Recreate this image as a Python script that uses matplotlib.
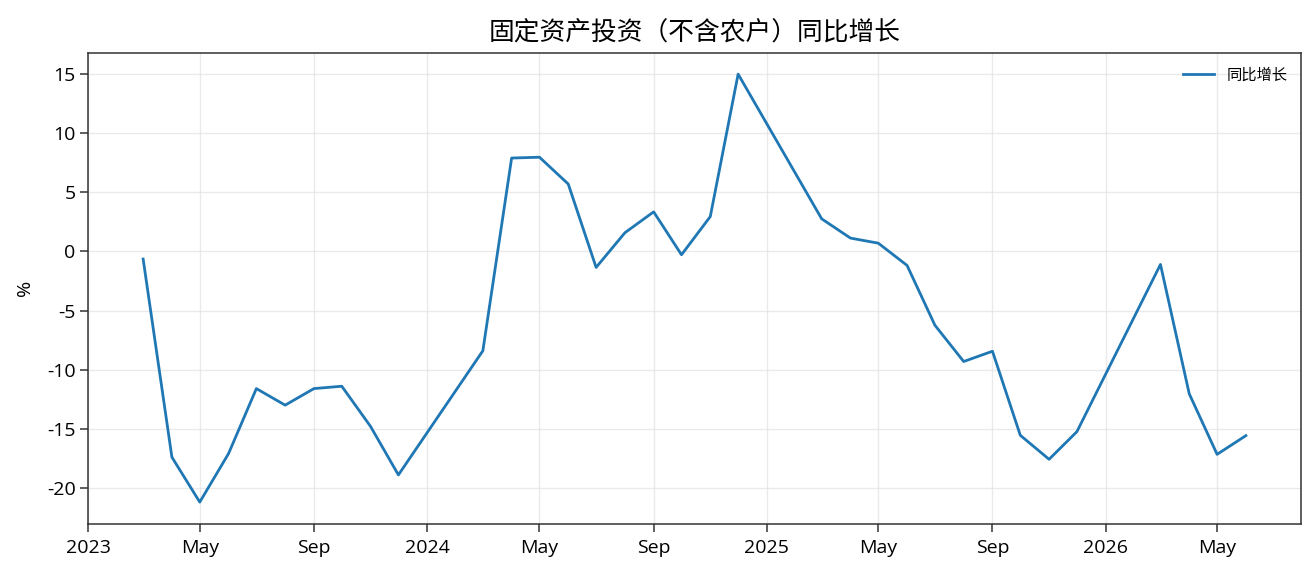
import matplotlib
matplotlib.use("Agg")
import matplotlib.pyplot as plt
import matplotlib.dates as mdates
from matplotlib.ticker import FuncFormatter
import pandas as pd

plt.rcParams['font.family'] = ['Open Sans', 'Noto Sans CJK SC', 'DejaVu Sans']
plt.rcParams['axes.unicode_minus'] = False

# 数据期末日（次月1日），1月与2月合并发布
dates = pd.to_datetime([
    "2023-03-01", "2023-04-01", "2023-05-01", "2023-06-01", "2023-07-01", "2023-08-01",
    "2023-09-01", "2023-10-01", "2023-11-01", "2023-12-01",
    "2024-03-01", "2024-04-01", "2024-05-01", "2024-06-01", "2024-07-01", "2024-08-01",
    "2024-09-01", "2024-10-01", "2024-11-01", "2024-12-01",
    "2025-03-01", "2025-04-01", "2025-05-01", "2025-06-01", "2025-07-01", "2025-08-01",
    "2025-09-01", "2025-10-01", "2025-11-01", "2025-12-01",
    "2026-03-01", "2026-04-01", "2026-05-01", "2026-06-01",
])
yoy = [
    -0.64, -17.4, -21.2, -17.1, -11.6, -13.0, -11.6, -11.4, -14.8, -18.9,
    -8.4, 7.9, 7.97, 5.7, -1.35, 1.58, 3.35, -0.28, 2.95, 15.0,
    2.76, 1.13, 0.7, -1.18, -6.24, -9.31, -8.44, -15.55, -17.58, -15.24,
    -1.1, -12.04, -17.16, -15.58,
]

fig = plt.figure(figsize=(13.16, 5.73), dpi=100)
ax = fig.add_axes([88 / 1316, (573 - 523.5) / 573, (1301 - 88) / 1316, (523.5 - 52.7) / 573])

ax.plot(dates, yoy, color='#1f77b4', linewidth=2, label='同比增长')

ax.set_title('固定资产投资（不含农户）同比增长', fontsize=18.5, pad=9,
             family=['Noto Sans CJK SC', 'DejaVu Sans'])
ax.set_ylabel('%', fontsize=14, labelpad=9)
ax.set_yticks([-20, -15, -10, -5, 0, 5, 10, 15])

ax.xaxis.set_major_locator(mdates.MonthLocator(bymonth=[1, 5, 9]))


def fmt_date(x, pos):
    d = mdates.num2date(x)
    return str(d.year) if d.month == 1 else d.strftime('%b')


ax.xaxis.set_major_formatter(FuncFormatter(fmt_date))
ax.tick_params(labelsize=14, length=5.5, width=1.1, color='#333333')
ax.tick_params(axis='x', pad=5.5)
for s in ax.spines.values():
    s.set_color('#333333')
    s.set_linewidth(1.1)

ax.grid(True, color='#dddddd', alpha=0.6, linewidth=1)
ax.legend(loc='upper right', frameon=False, prop={'family': 'Noto Sans CJK SC', 'size': 11})

fig.savefig('out.png', dpi=100)
